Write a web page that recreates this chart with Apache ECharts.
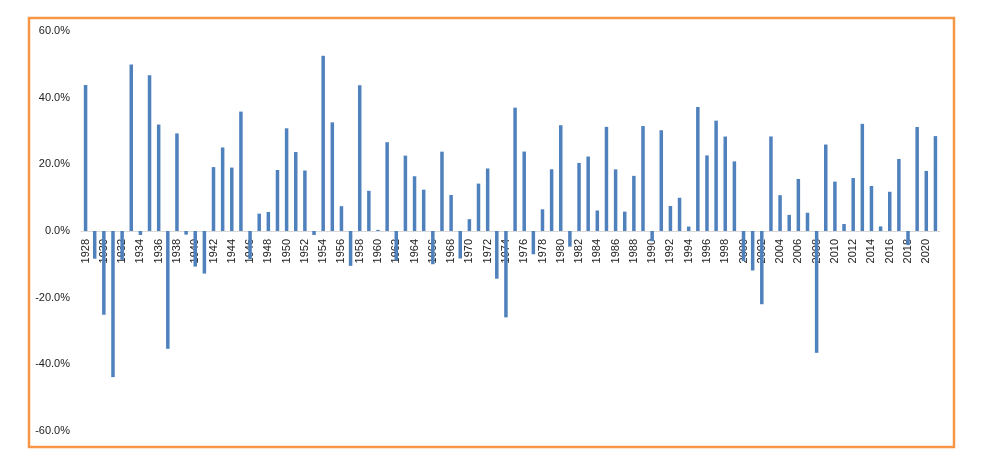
<!DOCTYPE html>
<html>
<head>
<meta charset="utf-8">
<script src="https://cdn.jsdelivr.net/npm/echarts@6/dist/echarts.min.js"></script>
<style>html,body{margin:0;padding:0;background:#fff;}#c{width:994px;height:475px;}</style>
</head>
<body>
<div id="c"></div>
<script>
var years = [];
for (var y = 1928; y <= 2021; y++) years.push(String(y));
var returns = [
43.81,-8.30,-25.12,-43.84,-8.64,49.98,-1.19,46.74,31.94,-35.34,
29.28,-1.10,-10.67,-12.77,19.17,25.06,19.03,35.82,-8.43,5.20,
5.70,18.30,30.81,23.68,18.15,-1.21,52.56,32.60,7.44,-10.46,
43.72,12.06,0.34,26.64,-8.81,22.61,16.42,12.40,-9.97,23.80,
10.81,-8.24,3.56,14.22,18.76,-14.31,-25.90,37.00,23.83,-6.98,
6.51,18.52,31.74,-4.70,20.42,22.34,6.15,31.24,18.49,5.81,
16.54,31.48,-3.06,30.23,7.49,9.97,1.33,37.20,22.68,33.10,
28.34,20.89,-9.03,-11.85,-21.97,28.36,10.74,4.83,15.61,5.48,
-36.55,25.94,14.82,2.10,15.89,32.15,13.52,1.38,11.77,21.61,
-4.23,31.21,18.02,28.47
];
var yTicks = {min: -60, max: 60, interval: 20};

var chart = echarts.init(document.getElementById('c'));
chart.setOption({
  animation: false,
  graphic: [{
    type: 'rect',
    shape: {x: 29, y: 18, width: 925, height: 429},
    style: {fill: 'none', stroke: '#F79646', lineWidth: 2.5},
    z: 100
  }],
  grid: {left: 81, right: 54, top: 31, bottom: 44, containLabel: false},
  xAxis: {
    type: 'category',
    data: years,
    offset: -200,
    axisLine: {onZero: false, lineStyle: {color: '#D9D9D9', width: 1}},
    axisTick: {show: false},
    axisLabel: {
      interval: 1,
      rotate: 90,
      margin: 8,
      color: '#222',
      fontSize: 11,
      fontFamily: 'Liberation Sans, Arial, sans-serif'
    },
    z: 0
  },
  yAxis: {
    type: 'value',
    min: yTicks.min,
    max: yTicks.max,
    interval: yTicks.interval,
    axisLine: {show: false},
    axisTick: {show: false},
    splitLine: {show: false},
    axisLabel: {
      margin: 11,
      color: '#222',
      fontSize: 11,
      fontFamily: 'Liberation Sans, Arial, sans-serif',
      formatter: function (v) { return v.toFixed(1) + '%'; }
    }
  },
  series: [{
    type: 'bar',
    data: returns,
    barWidth: 3.5,
    itemStyle: {color: '#4F81BD'},
    z: 5
  }]
});
</script>
</body>
</html>
